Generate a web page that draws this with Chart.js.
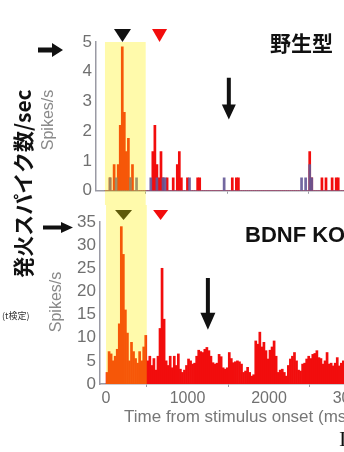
<!DOCTYPE html>
<html lang="ja">
<head>
<meta charset="UTF-8">
<title>発火スパイク数</title>
<style>
  body { margin: 0; width: 344px; height: 452px; overflow: hidden; background: #fff; position: relative; }
  canvas { position: absolute; left: 0; }
  #top { top: 0; }
  #bottom { top: 205px; }
  .lbl { position: absolute; white-space: nowrap; color: #111; }
  #ylab { left: -93px; top: 173px; width: 220px; height: 21px; line-height: 21px; text-align: center;
          font: bold 21px "Noto Sans CJK JP", sans-serif; transform: rotate(-90deg); }
  .unit { width: 100px; height: 16px; line-height: 16px; text-align: center; color: #8a8a8a;
          font: 16px "Liberation Sans", Arial, sans-serif; transform: rotate(-90deg); }
  #unitTop { left: -3px; top: 112px; }
  #unitBottom { left: 5px; top: 294px; }
  #wt { left: 270px; top: 32px; font: bold 21px/21px "Noto Sans CJK JP", sans-serif; }
  #ko { left: 245px; top: 224px; font: bold 22px/22px "Liberation Sans", Arial, sans-serif; }
  #note { left: 2px; top: 311px; font: 9px/10px "Noto Sans CJK JP", sans-serif; color: #333; }
  #edge { left: 339px; top: 428px; font: 22px/22px "Liberation Serif", serif; }
</style>
</head>
<body>
<canvas id="top" width="376" height="205"></canvas>
<canvas id="bottom" width="376" height="235"></canvas>
<div class="lbl" id="ylab">発火スパイク数/sec</div>
<div class="lbl unit" id="unitTop">Spikes/s</div>
<div class="lbl unit" id="unitBottom">Spikes/s</div>
<div class="lbl" id="wt">野生型</div>
<div class="lbl" id="ko">BDNF KO</div>
<div class="lbl" id="note">(t検定)</div>
<div class="lbl" id="edge">I</div>
<script src="https://cdn.jsdelivr.net/npm/chart.js"></script>
<script>
// 25 ms bins from stimulus onset
const binMs = 25;
const xTicks = [0, 1000, 2000, 3000];
const wtYTicks = [0, 1, 2, 3, 4, 5];
const koYTicks = [0, 5, 10, 15, 20, 25, 30, 35];
const stimWindow = [0, 500];
const markerTimes = [215, 670];

// wild type: red trials and blue-grey trials (spikes/s)
const wtRed = [
  0, 0, 0.44, 0, 0.88, 0, 0.88, 2.2, 4.84, 2.64,
  1.32, 1.76, 0.44, 0.88, 0, 0, 0, 0, 0, 0,
  0, 0, 0, 1.32, 2.2, 0.88, 0.44, 1.32, 0.44, 0,
  0.44, 0, 0, 0.44, 0, 0.88, 1.32, 0.44, 0, 0,
  0.44, 0, 0, 0, 0, 0.44, 0.44, 0, 0, 0,
  0, 0, 0, 0, 0, 0, 0, 0, 0, 0,
  0, 0, 0.44, 0, 0.44, 0.44, 0, 0, 0, 0,
  0, 0, 0, 0, 0, 0, 0, 0, 0, 0,
  0, 0, 0, 0, 0, 0, 0, 0, 0, 0,
  0, 0, 0, 0, 0, 0, 0, 0, 0, 0,
  1.32, 0.44, 0, 0, 0, 0, 0.44, 0, 0.44, 0,
  0, 0.44, 0, 0.44, 0.44, 0, 0, 0
];
const wtBlue = [
  0, 0, 0.44, 0, 0, 0.44, 0, 0, 0, 0,
  0, 0, 0.44, 0, 0, 0.44, 0, 0, 0, 0,
  0, 0, 0.44, 0, 0, 0.44, 0, 0, 0.44, 0.44,
  0, 0, 0, 0, 0, 0, 0, 0, 0, 0,
  0, 0.44, 0, 0, 0, 0, 0, 0, 0, 0,
  0, 0, 0, 0, 0, 0, 0, 0, 0.44, 0,
  0, 0, 0, 0, 0, 0, 0, 0, 0, 0,
  0, 0, 0, 0, 0, 0, 0, 0, 0, 0,
  0, 0, 0, 0, 0, 0, 0, 0, 0, 0,
  0, 0, 0, 0, 0, 0, 0.44, 0, 0.44, 0,
  0.88, 0.44, 0, 0, 0, 0, 0, 0, 0, 0,
  0, 0, 0, 0, 0, 0, 0, 0
];
// BDNF KO
const koRate = [
  2.5, 7, 6.5, 5, 6, 7.5, 13, 34, 28, 16,
  11, 5, 9, 7, 5.5, 4.5, 7, 5, 8, 10.5,
  5, 6, 4, 5.5, 3, 6, 12, 25, 14, 5,
  4, 6, 3.5, 6, 4, 6.5, 3.2, 2.5, 3, 4,
  5.4, 5, 4.3, 4.5, 6, 7.3, 7, 6.8, 7.5, 7.9,
  7.2, 6, 4.6, 4.3, 4.5, 6.4, 5.9, 3.5, 3.2, 3.5,
  6.8, 5.5, 4.6, 4.8, 5, 4.8, 4.3, 2.5, 2.8, 3.6,
  2.5, 1.7, 2, 9.3, 8.6, 11.2, 8, 9, 7.2, 5.4,
  7.3, 8, 9.3, 6, 2.5, 3, 3.2, 2.5, 1.7, 4,
  5.4, 6, 6.8, 5, 3, 2.8, 4.3, 4.5, 5.4, 6,
  5.5, 6.4, 6.6, 7.2, 5.7, 5.5, 4.3, 5, 6.8, 4.3,
  4.5, 3.9, 4.5, 5.7, 3.9, 4.5, 5, 4.5, 5, 4
];

const red = '#f20d0d';
const axisGrey = '#9a9aa4';
const tickGrey = '#707070';

const toPoints = arr => arr.map((v, i) => ({ x: i * binMs + binMs / 2, y: v }));

function arrow(ctx, x0, y0, x1, y1, shaft, headW, headL) {
  const a = Math.atan2(y1 - y0, x1 - x0), len = Math.hypot(x1 - x0, y1 - y0);
  ctx.save();
  ctx.translate(x0, y0);
  ctx.rotate(a);
  ctx.beginPath();
  ctx.moveTo(0, -shaft / 2);
  ctx.lineTo(len - headL, -shaft / 2);
  ctx.lineTo(len - headL, -headW / 2);
  ctx.lineTo(len, 0);
  ctx.lineTo(len - headL, headW / 2);
  ctx.lineTo(len - headL, shaft / 2);
  ctx.lineTo(0, shaft / 2);
  ctx.closePath();
  ctx.fillStyle = '#111';
  ctx.fill();
  ctx.restore();
}

function tri(ctx, cx, y0, y1, w, color) {
  ctx.beginPath();
  ctx.moveTo(cx - w / 2, y0);
  ctx.lineTo(cx + w / 2, y0);
  ctx.lineTo(cx, y1);
  ctx.closePath();
  ctx.fillStyle = color;
  ctx.fill();
}

const decor = {
  id: 'decor',
  beforeDatasetsDraw(chart, args, o) {
    const { ctx, scales: { x } } = chart;
    tri(ctx, x.getPixelForValue(markerTimes[0]), o.triTop, o.triBottom, 17, '#111');
    tri(ctx, x.getPixelForValue(markerTimes[1]), o.triTop, o.triBottom, 15, red);
  },
  afterDatasetsDraw(chart, args, o) {
    const { ctx, scales: { x } } = chart;
    const x0 = x.getPixelForValue(stimWindow[0]), x1 = x.getPixelForValue(stimWindow[1]);
    ctx.save();
    ctx.fillStyle = 'rgba(255,240,0,0.33)';
    ctx.fillRect(x0, o.bandTop, x1 - x0, o.bandBottom - o.bandTop);
    ctx.restore();
  },
  afterDraw(chart, args, o) {
    const { ctx, scales: { x, y } } = chart;
    const la = o.leftArrow;
    arrow(ctx, la[0], la[2], la[1], la[2], la[3], la[4], la[5]);
    const ax = x.getPixelForValue(o.downArrow[0]);
    arrow(ctx, ax, y.getPixelForValue(o.downArrow[1]), ax, y.getPixelForValue(o.downArrow[2]), 4, o.downArrow[3], o.downArrow[4]);
  }
};

function yScale(ticks, max, width) {
  return {
    min: 0, max: max,
    afterBuildTicks: s => { s.ticks = ticks.map(v => ({ value: v })); },
    afterFit: s => { s.width = width; },
    grid: { display: false, drawTicks: false },
    border: { color: axisGrey, width: 1.5 },
    ticks: { color: tickGrey, padding: 4, autoSkip: false, font: { family: 'Liberation Sans', size: 17 } }
  };
}

function xScale(min, max, height, showLabels) {
  return {
    type: 'linear', min: min, max: max, offset: false,
    afterBuildTicks: s => { s.ticks = xTicks.map(v => ({ value: v })); },
    afterFit: s => { s.height = height; },
    grid: { display: true, drawOnChartArea: false, drawTicks: true, tickLength: 3, color: axisGrey },
    border: { color: axisGrey, width: 1.5 },
    ticks: { display: showLabels, color: tickGrey, padding: 2, autoSkip: false, maxRotation: 0,
             callback: v => String(v), font: { family: 'Liberation Sans', size: 16 } },
    title: { display: showLabels, text: 'Time from stimulus onset (ms)', color: '#777',
             padding: { top: 0, bottom: 12 }, font: { family: 'Liberation Sans', size: 17 } }
  };
}

const barStyle = { barPercentage: 1, categoryPercentage: 1, borderWidth: 0, grouped: false };

new Chart(document.getElementById('top'), {
  type: 'bar',
  data: {
    datasets: [
      Object.assign({ data: toPoints(wtBlue), backgroundColor: 'rgba(100,88,150,0.9)' }, barStyle),
      Object.assign({ data: toPoints(wtRed), backgroundColor: red }, barStyle)
    ]
  },
  options: {
    responsive: false, animation: false,
    layout: { padding: { top: 42, left: 0, right: 0, bottom: 0 } },
    scales: { x: xScale(-110, 3326, 6, false), y: yScale(wtYTicks, 5, 96) },
    plugins: {
      legend: { display: false }, tooltip: { enabled: false },
      decor: { triTop: 29, triBottom: 42, bandTop: 42, bandBottom: 205,
               leftArrow: [38, 63, 50, 5, 14, 11], downArrow: [1520, 3.8, 2.4, 14, 15] }
    }
  },
  plugins: [decor]
});

new Chart(document.getElementById('bottom'), {
  type: 'bar',
  data: {
    datasets: [Object.assign({ data: toPoints(koRate), backgroundColor: red }, barStyle)]
  },
  options: {
    responsive: false, animation: false,
    layout: { padding: { top: 17, left: 0, right: 0, bottom: 0 } },
    scales: { x: xScale(-74, 3313, 56, true), y: yScale(koYTicks, 35, 100) },
    plugins: {
      legend: { display: false }, tooltip: { enabled: false },
      decor: { triTop: 5, triBottom: 15, bandTop: 0, bandBottom: 179,
               leftArrow: [43, 73, 22.5, 4, 11, 12], downArrow: [1250, 22.9, 11.7, 15, 17] }
    }
  },
  plugins: [decor]
});
</script>
</body>
</html>
